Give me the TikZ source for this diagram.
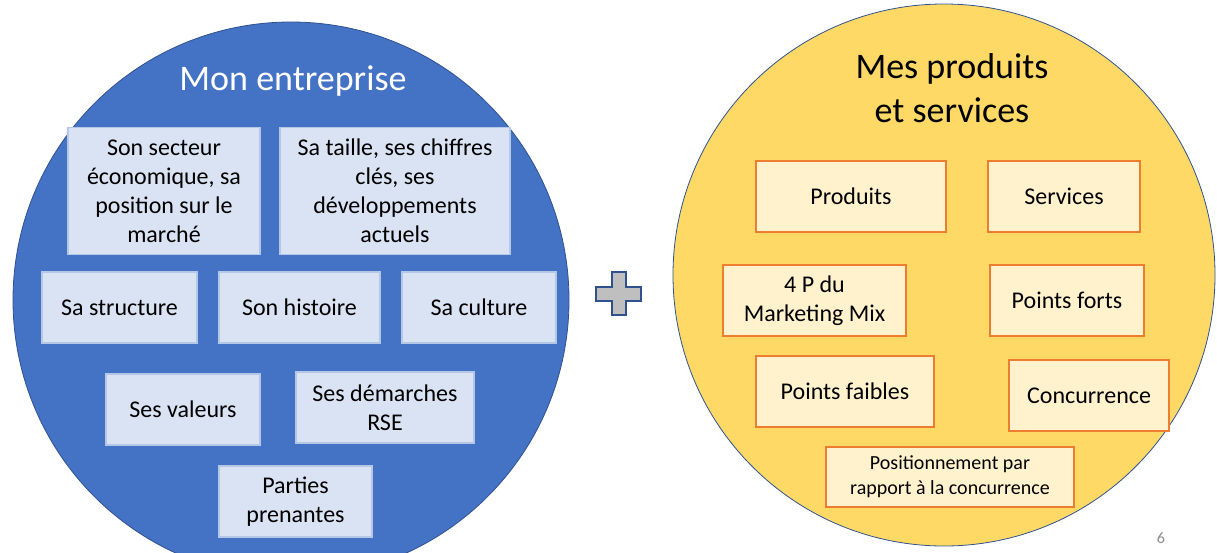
\documentclass[tikz,border=0pt]{standalone}
\usepackage{fontspec}
\setmainfont{Carlito}
\definecolor{circblue}{HTML}{4472C4}
\definecolor{circline}{HTML}{2F528F}
\definecolor{circyellow}{HTML}{FFD966}
\definecolor{boxblue}{HTML}{DAE3F3}
\definecolor{boxblueline}{HTML}{B4C7E7}
\definecolor{boxyellow}{HTML}{FFF2CC}
\definecolor{boxorange}{HTML}{ED7D31}
\definecolor{plusgray}{HTML}{BFBFBF}
\definecolor{pagegray}{HTML}{8B8B8B}
\tikzset{
  bluebox/.style={draw=boxblueline, fill=boxblue, line width=1.2pt, align=center,
    inner sep=0pt, text=black, font=\fontsize{24}{29}\selectfont},
  ybox/.style={draw=boxorange, fill=boxyellow, line width=1.2pt, align=center,
    inner sep=0pt, text=black, font=\fontsize{24}{29}\selectfont},
  titletext/.style={align=center, inner sep=0pt, font=\fontsize{36}{44}\selectfont},
}
\begin{document}
\begin{tikzpicture}[x=1pt,y=-1pt]
\useasboundingbox (0,0) rectangle (1217,552);
\clip (0,0) rectangle (1217,552);
% circles
\fill[circblue] (291,300) circle[radius=278];
\draw[circline, line width=0.8pt] (291,300) circle[radius=278];
\fill[circyellow] (944,275) circle[radius=271];
\draw[circline, line width=0.8pt] (944,275) circle[radius=271];
% titles
\node[titletext, text=white] (t1) at (293,81) {Mon entreprise};
\node[titletext, text=black] (t2) at (952,88) {Mes produits\\et services};
% left boxes
\node[bluebox, minimum width=192pt, minimum height=127pt] (b1) at (164,191) {Son secteur\\économique, sa\\position sur le\\marché};
\node[bluebox, minimum width=230pt, minimum height=127pt] (b2) at (395,191) {Sa taille, ses chiffres\\clés, ses\\développements\\actuels};
\node[bluebox, minimum width=155pt, minimum height=71pt] (b3) at (119.5,307.5) {Sa structure};
\node[bluebox, minimum width=161pt, minimum height=71pt] (b4) at (299.5,307.5) {Son histoire};
\node[bluebox, minimum width=154pt, minimum height=71pt] (b5) at (479,307.5) {Sa culture};
\node[bluebox, minimum width=154pt, minimum height=71pt] (b6) at (183,409.5) {Ses valeurs};
\node[bluebox, minimum width=178pt, minimum height=71pt] (b7) at (385,407.5) {Ses démarches\\RSE};
\node[bluebox, minimum width=153pt, minimum height=71pt] (b8) at (295.5,501.5) {Parties\\prenantes};
% right boxes
\node[ybox, minimum width=190pt, minimum height=71pt] (r1) at (851,196.5) {Produits};
\node[ybox, minimum width=152pt, minimum height=71pt] (r2) at (1064,196.5) {Services};
\node[ybox, minimum width=183pt, minimum height=71pt] (r3) at (814.5,300.5) {4 P du\\Marketing Mix};
\node[ybox, minimum width=154pt, minimum height=71pt] (r4) at (1067,300.5) {Points forts};
\node[ybox, minimum width=178pt, minimum height=71pt] (r5) at (845,391.5) {Points faibles};
\node[ybox, minimum width=160pt, minimum height=71pt] (r6) at (1089,395.5) {Concurrence};
\node[ybox, minimum width=248pt, minimum height=60pt, font=\fontsize{20}{25}\selectfont] (r7) at (950,477) {Positionnement par\\rapport à la concurrence};
% plus sign
\draw[fill=plusgray, draw=circline, line width=1.5pt, line join=miter]
  (612,272) -- (626,272) -- (626,287) -- (641,287) -- (641,301) -- (626,301)
  -- (626,315) -- (612,315) -- (612,301) -- (596,301) -- (596,287) -- (612,287) -- cycle;
% page number
\node[text=pagegray, font=\fontsize{16}{18}\selectfont, inner sep=0pt] (pg) at (1161,538) {6};
\end{tikzpicture}
\end{document}
